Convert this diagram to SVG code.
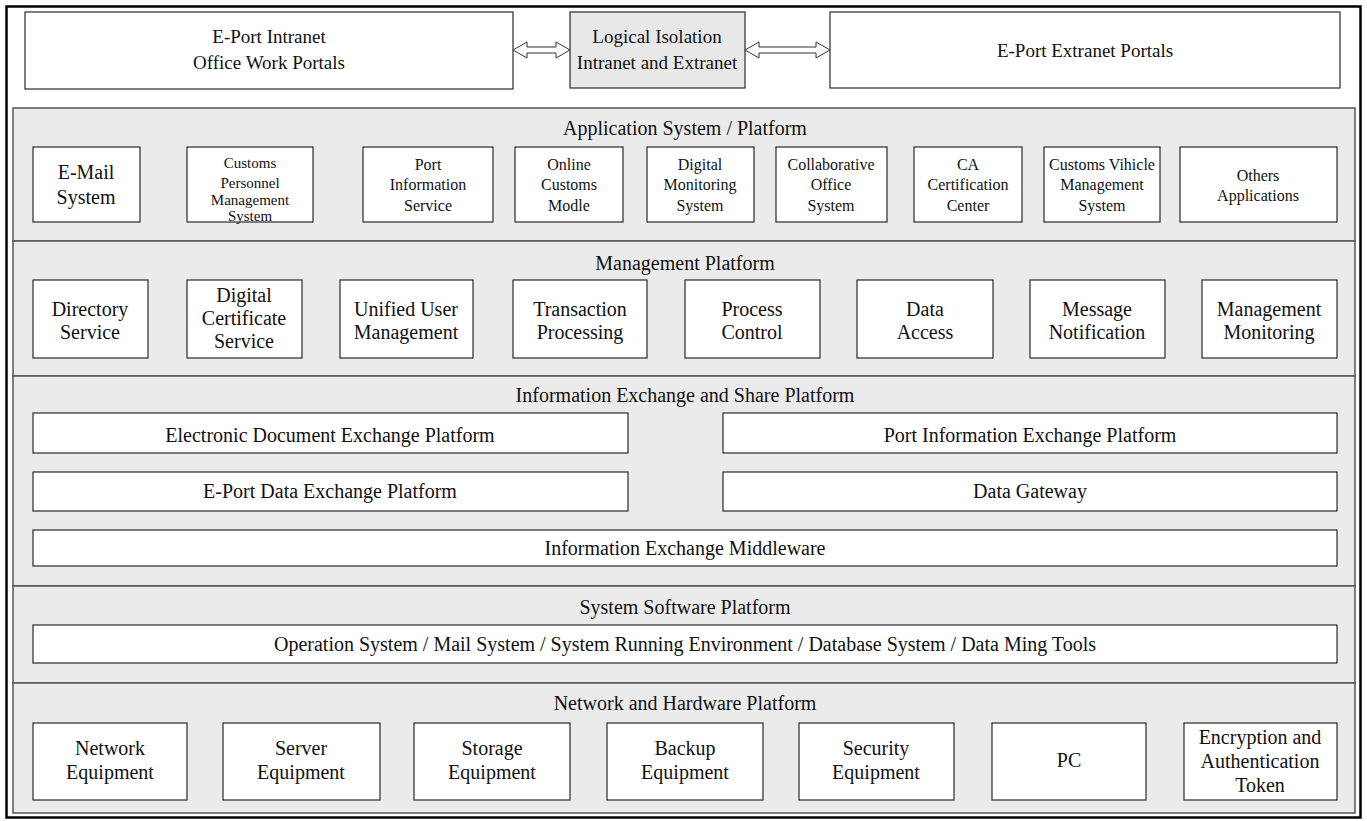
<svg xmlns="http://www.w3.org/2000/svg" width="1367" height="821" viewBox="0 0 1367 821">
<style>
text{font-family:"Liberation Serif","Times New Roman",serif;fill:#111;text-anchor:middle}
.box{fill:#fff;stroke:#2a2a2a;stroke-width:1.2}
.gbox{fill:#e8e8e8;stroke:#2a2a2a;stroke-width:1.2}
.panel{fill:#ebebeb;stroke:#555;stroke-width:1.5}
.arrow{fill:#fff;stroke:#333;stroke-width:1}
.t20{font-size:20px}.t19{font-size:19px}.t16{font-size:16px}.t15{font-size:15px}
</style>
<rect x="0" y="0" width="1367" height="821" fill="#fff"/>
<rect x="6.5" y="6.5" width="1354" height="811" fill="#fff" stroke="#000" stroke-width="2.5"/>

<g id="top-intranet"><rect class="box" x="25" y="12" width="488" height="77"/><text class="t19" x="269" y="43">E-Port Intranet</text><text class="t19" x="269" y="69">Office Work Portals</text></g>
<g id="top-isolation"><rect class="gbox" x="570" y="12" width="175" height="76"/><text class="t19" x="657" y="43">Logical Isolation</text><text class="t19" x="657" y="69">Intranet and Extranet</text></g>
<g id="top-extranet"><rect class="box" x="830" y="12" width="510" height="76"/><text class="t19" x="1085" y="57">E-Port Extranet Portals</text></g>
<g id="connectors">
<path class="arrow" d="M513,50 L527,42 L527,47 L556,47 L556,42 L570,50 L556,58 L556,53 L527,53 L527,58 Z"/>
<path class="arrow" d="M745,50 L759,42 L759,47 L816,47 L816,42 L830,50 L816,58 L816,53 L759,53 L759,58 Z"/>
</g>

<g id="panel-app"><rect class="panel" x="13" y="108" width="1342" height="133"/><text class="t20" x="685" y="135">Application System / Platform</text></g>
<g id="app-email"><rect class="box" x="33" y="147" width="107" height="75"/><text class="t20" x="86" y="179">E-Mail</text><text class="t20" x="86" y="204">System</text></g>
<g id="app-personnel"><rect class="box" x="187" y="147" width="126" height="75"/><text class="t15" x="250" y="168">Customs</text><text class="t15" x="250" y="188">Personnel</text><text class="t15" x="250" y="205">Management</text><text class="t15" x="250" y="221">System</text></g>
<g id="app-portinfo"><rect class="box" x="363" y="147" width="130" height="75"/><text class="t16" x="428" y="170">Port</text><text class="t16" x="428" y="190">Information</text><text class="t16" x="428" y="211">Service</text></g>
<g id="app-online"><rect class="box" x="515" y="147" width="108" height="75"/><text class="t16" x="569" y="170">Online</text><text class="t16" x="569" y="190">Customs</text><text class="t16" x="569" y="211">Modle</text></g>
<g id="app-digital"><rect class="box" x="647" y="147" width="107" height="75"/><text class="t16" x="700" y="170">Digital</text><text class="t16" x="700" y="190">Monitoring</text><text class="t16" x="700" y="211">System</text></g>
<g id="app-collab"><rect class="box" x="776" y="147" width="111" height="75"/><text class="t16" x="831" y="170">Collaborative</text><text class="t16" x="831" y="190">Office</text><text class="t16" x="831" y="211">System</text></g>
<g id="app-ca"><rect class="box" x="914" y="147" width="108" height="75"/><text class="t16" x="968" y="170">CA</text><text class="t16" x="968" y="190">Certification</text><text class="t16" x="968" y="211">Center</text></g>
<g id="app-vehicle"><rect class="box" x="1044" y="147" width="116" height="75"/><text class="t16" x="1102" y="170">Customs Vihicle</text><text class="t16" x="1102" y="190">Management</text><text class="t16" x="1102" y="211">System</text></g>
<g id="app-others"><rect class="box" x="1180" y="147" width="157" height="75"/><text class="t16" x="1258" y="181">Others</text><text class="t16" x="1258" y="201">Applications</text></g>

<g id="panel-mgmt"><rect class="panel" x="13" y="241" width="1342" height="135"/><text class="t20" x="685" y="270">Management Platform</text></g>
<g id="m-directory"><rect class="box" x="33" y="280" width="115" height="78"/><text class="t20" x="90" y="316">Directory</text><text class="t20" x="90" y="339">Service</text></g>
<g id="m-cert"><rect class="box" x="187" y="280" width="115" height="78"/><text class="t20" x="244" y="302">Digital</text><text class="t20" x="244" y="325">Certificate</text><text class="t20" x="244" y="348">Service</text></g>
<g id="m-user"><rect class="box" x="340" y="280" width="133" height="78"/><text class="t20" x="406" y="316">Unified User</text><text class="t20" x="406" y="339">Management</text></g>
<g id="m-trans"><rect class="box" x="513" y="280" width="134" height="78"/><text class="t20" x="580" y="316">Transaction</text><text class="t20" x="580" y="339">Processing</text></g>
<g id="m-process"><rect class="box" x="685" y="280" width="135" height="78"/><text class="t20" x="752" y="316">Process</text><text class="t20" x="752" y="339">Control</text></g>
<g id="m-data"><rect class="box" x="857" y="280" width="136" height="78"/><text class="t20" x="925" y="316">Data</text><text class="t20" x="925" y="339">Access</text></g>
<g id="m-message"><rect class="box" x="1030" y="280" width="135" height="78"/><text class="t20" x="1097" y="316">Message</text><text class="t20" x="1097" y="339">Notification</text></g>
<g id="m-monitor"><rect class="box" x="1202" y="280" width="135" height="78"/><text class="t20" x="1269" y="316">Management</text><text class="t20" x="1269" y="339">Monitoring</text></g>

<g id="panel-info"><rect class="panel" x="13" y="376" width="1342" height="210"/><text class="t20" x="685" y="402">Information Exchange and Share Platform</text></g>
<g id="i-edoc"><rect class="box" x="33" y="413" width="595" height="40"/><text class="t20" x="330" y="442">Electronic Document Exchange Platform</text></g>
<g id="i-port"><rect class="box" x="723" y="413" width="614" height="40"/><text class="t20" x="1030" y="442">Port Information Exchange Platform</text></g>
<g id="i-eport"><rect class="box" x="33" y="472" width="595" height="39"/><text class="t20" x="330" y="498">E-Port Data Exchange Platform</text></g>
<g id="i-gateway"><rect class="box" x="723" y="472" width="614" height="39"/><text class="t20" x="1030" y="498">Data Gateway</text></g>
<g id="i-middleware"><rect class="box" x="33" y="530" width="1304" height="36"/><text class="t20" x="685" y="555">Information Exchange Middleware</text></g>

<g id="panel-sys"><rect class="panel" x="13" y="586" width="1342" height="97"/><text class="t20" x="685" y="614">System Software Platform</text></g>
<g id="s-tools"><rect class="box" x="33" y="625" width="1304" height="38"/><text class="t20" x="685" y="651">Operation System / Mail System / System Running Environment / Database System / Data Ming Tools</text></g>

<g id="panel-net"><rect class="panel" x="13" y="683" width="1342" height="130"/><text class="t20" x="685" y="710">Network and Hardware Platform</text></g>
<g id="n-network"><rect class="box" x="33" y="723" width="154" height="77"/><text class="t20" x="110" y="755">Network</text><text class="t20" x="110" y="779">Equipment</text></g>
<g id="n-server"><rect class="box" x="223" y="723" width="157" height="77"/><text class="t20" x="301" y="755">Server</text><text class="t20" x="301" y="779">Equipment</text></g>
<g id="n-storage"><rect class="box" x="414" y="723" width="156" height="77"/><text class="t20" x="492" y="755">Storage</text><text class="t20" x="492" y="779">Equipment</text></g>
<g id="n-backup"><rect class="box" x="607" y="723" width="156" height="77"/><text class="t20" x="685" y="755">Backup</text><text class="t20" x="685" y="779">Equipment</text></g>
<g id="n-security"><rect class="box" x="799" y="723" width="155" height="77"/><text class="t20" x="876" y="755">Security</text><text class="t20" x="876" y="779">Equipment</text></g>
<g id="n-pc"><rect class="box" x="992" y="723" width="154" height="77"/><text class="t20" x="1069" y="767">PC</text></g>
<g id="n-token"><rect class="box" x="1184" y="723" width="153" height="77"/><text class="t20" x="1260" y="744">Encryption and</text><text class="t20" x="1260" y="768">Authentication</text><text class="t20" x="1260" y="792">Token</text></g>
</svg>
